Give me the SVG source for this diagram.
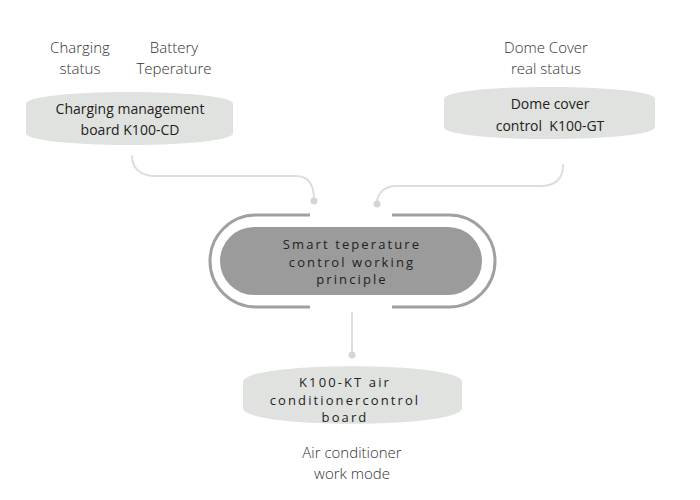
<svg xmlns="http://www.w3.org/2000/svg" width="700" height="500" viewBox="0 0 700 500">
  <style>
    .label { font-family: "Open Sans", "Liberation Sans", sans-serif; font-size: 15px; font-weight: 300; fill: #333; text-anchor: middle; }
    .ntext { font-family: "Open Sans", "Liberation Sans", sans-serif; font-size: 14px; fill: #222; text-anchor: middle; }
    .spaced { font-size: 13px; letter-spacing: 2.1px; }
    .node { fill: #e0e2e0; }
    .conn { fill: none; stroke: #dcdedc; stroke-width: 2; stroke-linecap: round; }
    .dot { fill: #d4d6d4; }
    .bracket { fill: none; stroke: #a0a0a0; stroke-width: 3; }
  </style>
  <rect width="700" height="500" fill="#ffffff"/>

  <g id="connectors">
    <path class="conn" d="M132,156 C132,168 140,176 156,176 L296,176 C308,176 314,184 314,200"/>
    <circle class="dot" cx="314" cy="201" r="3.5"/>
    <path class="conn" d="M563,165 C563,179 556,186 540,186 L396,186 C384,186 377,194 377,203"/>
    <circle class="dot" cx="377" cy="204" r="3.5"/>
    <path class="conn" d="M352,313 L352,354"/>
    <circle class="dot" cx="352" cy="355" r="3.5"/>
  </g>

  <g id="label-charging-status">
    <text class="label" x="80" y="53">Charging</text>
    <text class="label" x="80" y="74">status</text>
  </g>
  <g id="label-battery-temp">
    <text class="label" x="174" y="53">Battery</text>
    <text class="label" x="174" y="74">Teperature</text>
  </g>
  <g id="label-dome-status">
    <text class="label" x="546" y="53">Dome Cover</text>
    <text class="label" x="546" y="74">real status</text>
  </g>

  <g id="node-charging-board">
    <path class="node" d="M26,104 C26,88 233,88 233,104 L233,133 C233,149 26,149 26,133 Z"/>
    <text class="ntext" x="130" y="114">Charging management</text>
    <text class="ntext" x="130" y="135">board K100-CD</text>
  </g>

  <g id="node-dome-control">
    <path class="node" d="M444,99 C444,83 655,83 655,99 L655,127 C655,143 444,143 444,127 Z"/>
    <text class="ntext" x="550" y="109">Dome cover</text>
    <text class="ntext" x="550" y="131" xml:space="preserve">control  K100-GT</text>
  </g>

  <g id="node-center">
    <path class="bracket" d="M310,215 L256,215 A46,46 0 0 0 256,307 L310,307"/>
    <path class="bracket" d="M392,215 L449,215 A46,46 0 0 1 449,307 L392,307"/>
    <rect x="220" y="227" width="262" height="68" rx="34" fill="#9b9b9b"/>
    <text class="ntext spaced" x="352" y="249">Smart teperature</text>
    <text class="ntext spaced" x="352" y="267">control working</text>
    <text class="ntext spaced" x="352" y="284">principle</text>
  </g>

  <g id="node-ac-board">
    <path class="node" d="M243,382 C243,361 462,361 462,382 L462,408 C462,429 243,429 243,408 Z"/>
    <text class="ntext spaced" x="345" y="387">K100-KT air</text>
    <text class="ntext spaced" x="345" y="405">conditionercontrol</text>
    <text class="ntext spaced" x="345" y="422">board</text>
  </g>

  <g id="label-ac-mode">
    <text class="label" x="352" y="458">Air conditioner</text>
    <text class="label" x="352" y="479">work mode</text>
  </g>
</svg>
